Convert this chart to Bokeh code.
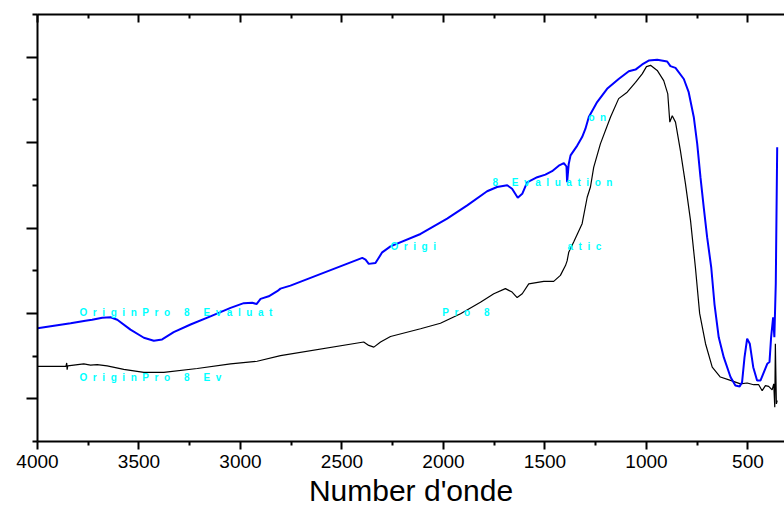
from bokeh.plotting import figure
from bokeh.models import Range1d, FixedTicker, LinearAxis, Label, CustomJSTickFormatter
from bokeh.embed import file_html
from bokeh.resources import INLINE

# ---- data (wavenumber, transmittance in arbitrary units) ----
wn_blue = [4000, 3837, 3764, 3731, 3681, 3640, 3607, 3542, 3476, 3427, 3386, 3329, 3246, 3148,
           3049, 2984, 2942, 2921, 2901, 2861, 2819, 2803, 2754, 2400, 2384, 2368, 2335, 2302,
           2261, 2113, 1982, 1883, 1785, 1736, 1686, 1662, 1634, 1612, 1588, 1538, 1498, 1465,
           1432, 1407, 1394, 1391, 1383, 1374, 1341, 1317, 1301, 1284, 1243, 1194, 1137, 1087,
           1054, 1021, 989, 947, 898, 882, 857, 816, 792, 767, 750, 734, 718, 701, 681, 665,
           644, 619, 586, 562, 541, 529, 517, 504, 491, 474, 455, 438, 422, 405, 394, 386,
           376, 370, 363, 356]
t_blue = [26.5, 27.7, 28.3, 28.5, 29.0, 29.1, 28.5, 26.2, 24.3, 23.6, 23.9, 25.6, 27.4, 29.3,
          31.3, 32.4, 32.5, 32.2, 33.4, 34.0, 35.2, 35.8, 36.5, 43.0, 42.6, 41.6, 41.8, 44.3,
          45.7, 48.6, 52.2, 55.3, 58.6, 59.6, 60.0, 59.2, 57.1, 58.0, 60.7, 61.9, 62.5, 63.3,
          64.6, 65.2, 64.4, 60.7, 65.0, 67.0, 69.3, 71.3, 73.2, 76.0, 79.5, 82.6, 84.9, 86.7,
          87.1, 88.3, 89.2, 89.4, 89.0, 87.9, 87.5, 84.9, 81.8, 76.0, 69.7, 61.9, 54.9, 47.8,
          40.8, 32.2, 24.4, 19.7, 15.1, 13.1, 12.9, 13.9, 19.7, 24.1, 22.9, 17.4, 14.3, 14.3,
          16.2, 18.2, 18.6, 24.4, 29.1, 24.4, 36.9, 68.9]

wn_black = [4000, 3870, 3860, 3856, 3854, 3851, 3772, 3739, 3706, 3657, 3575, 3476, 3378, 3213,
            3049, 2918, 2803, 2393, 2368, 2343, 2310, 2261, 2113, 2015, 1916, 1818, 1752, 1695,
            1662, 1637, 1612, 1580, 1506, 1457, 1424, 1399, 1391, 1383, 1358, 1317, 1292, 1276,
            1260, 1227, 1177, 1137, 1095, 1054, 1021, 1000, 980, 947, 915, 895, 885, 873, 857,
            833, 808, 783, 759, 738, 709, 676, 636, 586, 537, 504, 472, 447, 430, 414, 398,
            381, 373, 368, 365, 360, 356]
t_black = [17.6, 17.6, 17.6, 18.4, 16.8, 17.7, 18.2, 17.9, 18.0, 17.7, 16.9, 16.2, 16.2, 17.1,
           18.2, 18.8, 20.1, 23.3, 22.5, 22.1, 23.3, 24.6, 26.4, 27.7, 29.9, 32.6, 34.6, 35.8,
           35.0, 33.7, 34.6, 36.9, 37.5, 37.5, 38.9, 41.2, 42.3, 44.3, 46.8, 51.0, 57.2, 59.6,
           64.2, 69.7, 76.0, 80.3, 81.8, 84.1, 86.1, 87.8, 88.1, 86.9, 84.5, 81.4, 74.8, 76.3,
           74.8, 68.2, 60.4, 51.8, 40.8, 30.0, 22.9, 17.4, 15.1, 14.3, 13.5, 13.7, 13.3, 13.3,
           11.9, 13.1, 12.9, 12.1, 13.5, 8.0, 22.9, 8.8, 9.6]

x_major = [4000, 3500, 3000, 2500, 2000, 1500, 1000, 500]
x_minor = [3750, 3250, 2750, 2250, 1750, 1250, 750]
x_labels = ["4000", "3500", "3000", "2500", "2000", "1500", "1000", "500"]
y_major = [10, 30, 50, 70, 90]
y_minor = [0, 20, 40, 60, 80, 100]

x_title = "Number d'onde"

# watermark fragments (visible pieces of the evaluation watermark)
wm_fragments = [
    ("on", 1286, 75.9),
    ("8 Evaluation", 1759, 60.7),
    ("Origi", 2261, 45.7),
    ("atic", 1389, 45.7),
    ("OriginPro 8 Evaluat", 3793, 30.2),
    ("Pro 8", 2006, 30.2),
    ("OriginPro 8 Ev", 3793, 15.0),
]

FONT = "Liberation Sans"

p = figure(width=784, height=513, x_range=Range1d(4000, 320), y_range=Range1d(0, 100),
           output_backend="svg", toolbar_location=None,
           min_border_left=37, min_border_right=0, min_border_top=14, min_border_bottom=72,
           background_fill_color="white", border_fill_color="white")
p.outline_line_color = None
p.xgrid.visible = False
p.ygrid.visible = False

# bottom axis
xa = p.xaxis[0]
xa.ticker = FixedTicker(ticks=x_major, minor_ticks=x_minor)
xa.major_label_overrides = {v: s for v, s in zip(x_major, x_labels)}
xa.axis_line_width = 2
xa.major_tick_line_width = 2
xa.minor_tick_line_width = 2
xa.major_tick_out = 8
xa.major_tick_in = 0
xa.minor_tick_out = 4
xa.minor_tick_in = 0
xa.major_label_text_font = FONT
xa.major_label_text_font_size = "19px"
xa.major_label_text_color = "black"
xa.major_label_standoff = 5
xa.axis_label = x_title
xa.axis_label_text_font = FONT
xa.axis_label_text_font_size = "30px"
xa.axis_label_text_font_style = "normal"
xa.axis_label_text_color = "black"
xa.axis_label_standoff = 3

# left axis (no labels)
ya = p.yaxis[0]
ya.ticker = FixedTicker(ticks=y_major, minor_ticks=y_minor)
ya.formatter = CustomJSTickFormatter(code="return ''")
ya.major_label_text_font_size = "0px"
ya.major_label_standoff = 0
ya.axis_line_width = 2
ya.major_tick_line_width = 2
ya.minor_tick_line_width = 2
ya.major_tick_out = 11
ya.major_tick_in = 0
ya.minor_tick_out = 5
ya.minor_tick_in = 0

# top axis (ticks inward, no labels)
top = LinearAxis(ticker=FixedTicker(ticks=x_major, minor_ticks=x_minor),
                 formatter=CustomJSTickFormatter(code="return ''"))
top.major_label_text_font_size = "0px"
top.major_label_standoff = 0
top.axis_line_width = 2
top.major_tick_line_width = 2
top.minor_tick_line_width = 2
top.major_tick_in = 8
top.major_tick_out = 0
top.minor_tick_in = 4
top.minor_tick_out = 0
p.add_layout(top, "above")

p.line(wn_black, t_black, line_color="black", line_width=1.2)
p.line(wn_blue, t_blue, line_color="#0000FF", line_width=2)


def spaced(s):
    return "\u00a0\u00a0".join("\u00a0" if c == " " else c for c in s)


for txt, xx, yy in wm_fragments:
    p.add_layout(Label(x=xx, y=yy, text=spaced(txt), text_align="left", text_baseline="middle",
                       text_color="#00FFFF", text_font=FONT, text_font_size="10px",
                       text_font_style="bold"))

open("out.html", "w").write(file_html(p, INLINE))
